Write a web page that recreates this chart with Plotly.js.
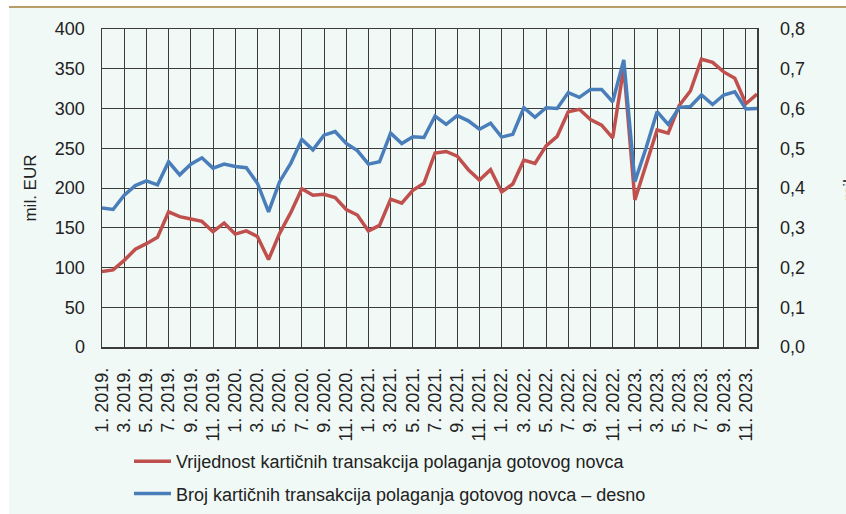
<!DOCTYPE html>
<html>
<head>
<meta charset="utf-8">
<script src="https://cdn.plot.ly/plotly-3.0.1.min.js"></script>
<style>
  html, body { margin: 0; padding: 0; background: #ffffff; }
  #chart { width: 846px; height: 514px; }
</style>
</head>
<body>
<div id="chart"></div>
<script>
const months = [
  "1. 2019.","2. 2019.","3. 2019.","4. 2019.","5. 2019.","6. 2019.","7. 2019.","8. 2019.","9. 2019.","10. 2019.","11. 2019.","12. 2019.",
  "1. 2020.","2. 2020.","3. 2020.","4. 2020.","5. 2020.","6. 2020.","7. 2020.","8. 2020.","9. 2020.","10. 2020.","11. 2020.","12. 2020.",
  "1. 2021.","2. 2021.","3. 2021.","4. 2021.","5. 2021.","6. 2021.","7. 2021.","8. 2021.","9. 2021.","10. 2021.","11. 2021.","12. 2021.",
  "1. 2022.","2. 2022.","3. 2022.","4. 2022.","5. 2022.","6. 2022.","7. 2022.","8. 2022.","9. 2022.","10. 2022.","11. 2022.","12. 2022.",
  "1. 2023.","2. 2023.","3. 2023.","4. 2023.","5. 2023.","6. 2023.","7. 2023.","8. 2023.","9. 2023.","10. 2023.","11. 2023.","12. 2023."
];
const tickLabels = [
  "1. 2019.","3. 2019.","5. 2019.","7. 2019.","9. 2019.","11. 2019.",
  "1. 2020.","3. 2020.","5. 2020.","7. 2020.","9. 2020.","11. 2020.",
  "1. 2021.","3. 2021.","5. 2021.","7. 2021.","9. 2021.","11. 2021.",
  "1. 2022.","3. 2022.","5. 2022.","7. 2022.","9. 2022.","11. 2022.",
  "1. 2023.","3. 2023.","5. 2023.","7. 2023.","9. 2023.","11. 2023."
];
// Value of card cash-deposit transactions (mil. EUR, left axis)
const valueSeries = [
  95, 97, 109, 123, 130, 138, 170, 164, 161, 158, 145, 156,
  142, 146, 139, 110, 143, 169, 199, 191, 192, 188, 173, 166,
  146, 153, 186, 181, 197, 206, 244, 246, 240, 223, 210, 223,
  195, 205, 235, 231, 253, 265, 296, 299, 286, 279, 263, 352,
  185, 229, 273, 269, 304, 322, 362, 358, 346, 338, 306, 318
];
// Number of card cash-deposit transactions (mil., right axis)
const countSeries = [
  0.350, 0.346, 0.382, 0.406, 0.418, 0.408, 0.466, 0.433, 0.460, 0.476, 0.450, 0.460,
  0.454, 0.451, 0.412, 0.340, 0.416, 0.462, 0.522, 0.496, 0.533, 0.542, 0.512, 0.494,
  0.460, 0.466, 0.538, 0.512, 0.529, 0.527, 0.581, 0.560, 0.582, 0.569, 0.548, 0.563,
  0.528, 0.535, 0.602, 0.578, 0.602, 0.600, 0.640, 0.628, 0.648, 0.648, 0.617, 0.722,
  0.416, 0.500, 0.592, 0.560, 0.603, 0.605, 0.634, 0.610, 0.634, 0.642, 0.599, 0.600
];
const seriesNames = [
  "Vrijednost kartičnih transakcija polaganja gotovog novca",
  "Broj kartičnih transakcija polaganja gotovog novca – desno"
];

const L = 102, R = 89, T = 29, B = 167;
const W = 846 - L - R, H = 514 - T - B;
const px = x => (x - L) / W;
const py = y => (514 - B - y) / H;

const regular = "Liberation Sans, Arial, sans-serif";
const gridC = "#3c3c3c";

const traces = [
  {
    x: months, y: valueSeries, name: seriesNames[0], type: "scatter", mode: "lines",
    line: { color: "#c0504d", width: 3.5 }, yaxis: "y", legendgroup: "a"
  },
  {
    x: months, y: countSeries, name: seriesNames[1], type: "scatter", mode: "lines",
    line: { color: "#4a7ebb", width: 3.5 }, yaxis: "y2", legendgroup: "b"
  }
];

const layout = {
  width: 846, height: 514,
  margin: { l: L, r: R, t: T, b: B, pad: 0, autoexpand: false },
  paper_bgcolor: "#ffffff",
  plot_bgcolor: "rgba(0,0,0,0)",
  separators: ",.",
  font: { family: regular, size: 18, color: "#222222" },
  showlegend: true,
  legend: {
    orientation: "v", x: px(129), y: py(443), xanchor: "left", yanchor: "top",
    font: { family: regular, size: 18, color: "#222222" },
    bgcolor: "rgba(0,0,0,0)", tracegroupgap: 6, itemwidth: 37
  },
  xaxis: {
    type: "category", range: [0, 59], tickmode: "array", automargin: false,
    tickvals: tickLabels, ticktext: tickLabels, tickangle: -90,
    showgrid: true, gridcolor: gridC, gridwidth: 1,
    showline: true, linecolor: gridC, linewidth: 1.5, mirror: true,
    ticks: "", ticklabelstandoff: 12,
    tickfont: { family: regular, size: 18, color: "#222222" },
    zeroline: false, fixedrange: true
  },
  yaxis: {
    range: [0, 400], tickmode: "linear", tick0: 0, dtick: 50, automargin: false,
    showgrid: true, gridcolor: gridC, gridwidth: 1,
    showline: true, linecolor: gridC, linewidth: 1.5, mirror: true,
    ticks: "", ticklabelstandoff: 12, zeroline: false,
    tickfont: { family: regular, size: 18, color: "#222222" },
    title: { text: "mil. EUR", font: { family: regular, size: 17, color: "#222222" }, standoff: 14 }
  },
  yaxis2: {
    overlaying: "y", side: "right", range: [0, 0.8], tickmode: "linear", tick0: 0, dtick: 0.1,
    tickformat: ".1f", showgrid: false, zeroline: false, showline: false, automargin: false,
    ticks: "", ticklabelstandoff: 22,
    tickfont: { family: regular, size: 18, color: "#222222" }
  },
  shapes: [
    { type: "rect", xref: "paper", yref: "paper", x0: px(9), x1: px(850), y0: py(520), y1: py(8),
      fillcolor: "#f0f9f5", line: { width: 0 }, layer: "below" },
    { type: "line", xref: "paper", yref: "paper", x0: px(9), x1: px(850), y0: py(7), y1: py(7),
      line: { color: "#b89c6a", width: 2 } }
  ],
  annotations: [
    { text: "mil.", xref: "paper", yref: "paper", x: px(849), y: py(188), textangle: -90,
      showarrow: false, xanchor: "center", yanchor: "middle",
      font: { family: regular, size: 17, color: "#222222" } }
  ]
};

Plotly.newPlot("chart", traces, layout, { displayModeBar: false, staticPlot: true });
</script>
</body>
</html>
